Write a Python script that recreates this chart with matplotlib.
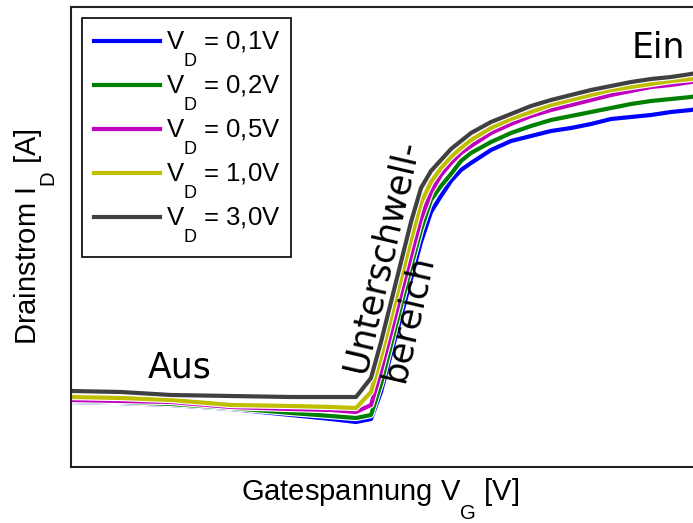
import matplotlib
matplotlib.use("Agg")
import matplotlib.pyplot as plt
import matplotlib.patheffects as pe

plt.rcParams["mathtext.fontset"] = "custom"
plt.rcParams["mathtext.rm"] = "Liberation Sans"
plt.rcParams["mathtext.it"] = "Liberation Sans"

# Gate voltage samples (V) shared by all curves
vg = [0.0, 0.5, 1.0, 1.6, 2.2, 2.6, 2.85,
      3.0, 3.1, 3.2, 3.3, 3.4, 3.5, 3.6, 3.7, 3.8, 3.9, 4.0,
      4.2, 4.4, 4.6, 4.8, 5.0, 5.2, 5.4, 5.6, 5.8, 6.0, 6.2, 6.3]

# Drain current (arbitrary units) for each drain voltage
id_01 = [0.65, 0.64, 0.62, 0.58, 0.52, 0.48, 0.45,
         0.48, 0.75, 1.13, 1.50, 1.88, 2.25, 2.55, 2.71, 2.86, 2.97, 3.04,
         3.17, 3.26, 3.31, 3.36, 3.39, 3.43, 3.48, 3.50, 3.52, 3.55, 3.57, 3.59]
id_02 = [0.66, 0.65, 0.63, 0.59, 0.54, 0.51, 0.49,
         0.52, 0.83, 1.22, 1.61, 2.00, 2.37, 2.67, 2.81, 2.93, 3.06, 3.14,
         3.25, 3.34, 3.41, 3.47, 3.51, 3.55, 3.59, 3.63, 3.66, 3.68, 3.70, 3.72]
id_05 = [0.67, 0.66, 0.65, 0.60, 0.58, 0.57, 0.55,
         0.62, 0.96, 1.34, 1.73, 2.11, 2.48, 2.75, 2.92, 3.04, 3.14, 3.21,
         3.34, 3.43, 3.51, 3.57, 3.62, 3.67, 3.72, 3.76, 3.80, 3.82, 3.85, 3.86]
id_10 = [0.70, 0.69, 0.67, 0.62, 0.61, 0.60, 0.59,
         0.75, 1.10, 1.49, 1.88, 2.27, 2.64, 2.85, 2.99, 3.10, 3.19, 3.27,
         3.39, 3.48, 3.55, 3.62, 3.67, 3.72, 3.77, 3.80, 3.83, 3.86, 3.88, 3.90]
id_30 = [0.76, 0.75, 0.72, 0.71, 0.70, 0.70, 0.70,
         0.89, 1.25, 1.65, 2.05, 2.45, 2.79, 2.96, 3.07, 3.18, 3.26, 3.34,
         3.45, 3.53, 3.61, 3.67, 3.72, 3.77, 3.81, 3.85, 3.88, 3.90, 3.93, 3.95]

series = [id_01, id_02, id_05, id_10, id_30]
labels = ["0,1V", "0,2V", "0,5V", "1,0V", "3,0V"]
colors = ["#0000ff", "#008000", "#bf00bf", "#bfbf00", "#404040"]


def lowered(sym, sub):
    """Symbol with a deeply lowered index, e.g. V with D underneath-right."""
    return r"$\mathregular{" + sym + r"\underset{" + sub + r"}{\enspace}}$"


fig = plt.figure(figsize=(6.93, 5.23), dpi=100)
ax = fig.add_axes([71 / 693, 56 / 523, 629 / 693, 460 / 523])

for ys, lab, col in zip(series, labels, colors):
    ax.plot(vg, ys, color=col, lw=3.0, solid_joinstyle="round",
            label=lowered("V", "D") + " = " + lab,
            path_effects=[pe.Stroke(linewidth=4.6, foreground="white"), pe.Normal()])

ax.set_xlim(0, 6.29)
ax.set_ylim(0, 4.6)
ax.set_xticks([])
ax.set_yticks([])
for s in ax.spines.values():
    s.set_linewidth(1.5)
    s.set_color("#222222")

ax.set_xlabel("Gatespannung " + lowered("V", "G") + " [V]", fontsize=21,
              family="Liberation Sans")
ax.xaxis.set_label_coords((380 - 71) / 629, -0.02)
ax.set_ylabel("Drainstrom " + lowered("I", "D") + " [A]", fontsize=21,
              family="Liberation Sans")
ax.yaxis.set_label_coords(-0.02, 0.5)

leg = ax.legend(loc="upper left", bbox_to_anchor=(0.0175, 0.976), borderaxespad=0,
                fancybox=False, framealpha=1, edgecolor="black",
                prop={"family": "Liberation Sans", "size": 18.5},
                handlelength=2.6, handletextpad=0.2, labelspacing=0.18,
                borderpad=0.45)
leg.get_frame().set_linewidth(1.2)

ax.text(1.09, 0.89, "Aus", fontsize=25, ha="center", va="baseline")
ax.text(5.87, 4.09, "Ein", fontsize=25, ha="center", va="baseline")
ax.text(3.30, 2.07, "Unterschwell-\nbereich", fontsize=25, rotation=77,
        ha="center", va="center", multialignment="left")

fig.savefig("out.png", dpi=100)
